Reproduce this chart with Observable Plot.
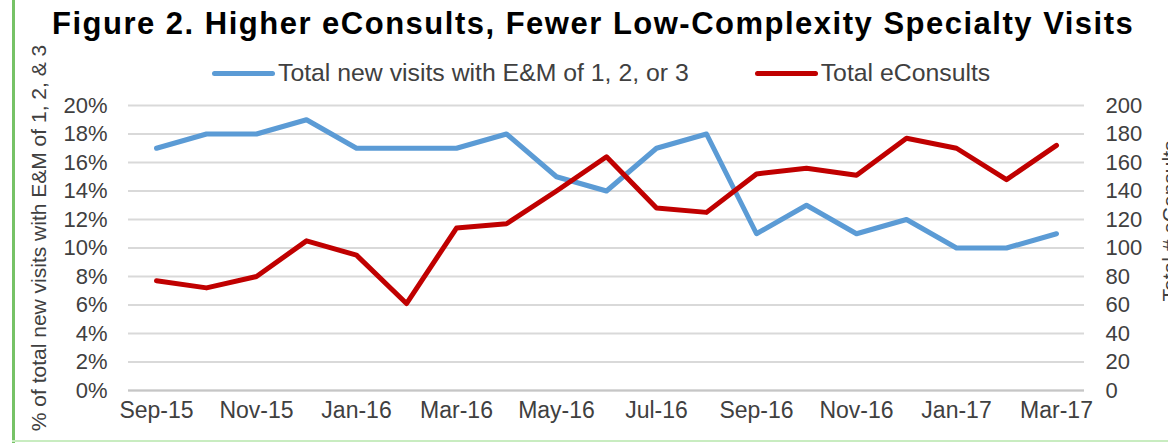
<!DOCTYPE html>
<html><head><meta charset="utf-8">
<script src="https://cdn.jsdelivr.net/npm/d3@7"></script>
<script src="https://cdn.jsdelivr.net/npm/@observablehq/plot@0.6"></script>
<style>
html,body{margin:0;padding:0;background:#fff;}
body{width:1168px;height:443px;position:relative;overflow:hidden;font-family:"Liberation Sans",Arial,sans-serif;}
#title{height:44px;line-height:48px;padding-left:52px;font-size:31px;font-weight:bold;color:#000;letter-spacing:1.5px;white-space:nowrap;}
#legend{height:44px;box-sizing:border-box;padding-top:14px;display:flex;align-items:center;padding-left:212px;font-size:24.8px;color:#404040;white-space:nowrap;}
.item{display:flex;align-items:center;}
.item + .item{margin-left:66px;}
.sw{display:inline-block;width:63px;height:5px;border-radius:2.5px;margin-right:3px;}
#chart svg{display:block;}
#leftbar{position:absolute;left:12px;top:0;width:3px;height:443px;background:#76c266;}
#bottombar{position:absolute;left:12px;right:0;top:440px;height:2px;background:#c8ecc0;}
</style></head>
<body>
<div id="leftbar"></div>
<div id="title"></div>
<div id="legend"></div>
<div id="chart"></div>
<div id="bottombar"></div>
<script>
const titleText = "Figure 2. Higher eConsults, Fewer Low-Complexity Specialty Visits";
const months = ["Sep-15","Oct-15","Nov-15","Dec-15","Jan-16","Feb-16","Mar-16","Apr-16","May-16","Jun-16","Jul-16","Aug-16","Sep-16","Oct-16","Nov-16","Dec-16","Jan-17","Feb-17","Mar-17"];
const visitsPct = [17,18,18,19,17,17,17,18,15,14,17,18,11,13,11,12,10,10,11];
const eConsults = [77,72,80,105,95,61,114,117,140,164,128,125,152,156,151,177,170,148,172];
const seriesNames = ["Total new visits with E&M of 1, 2, or 3", "Total eConsults"];
const seriesColors = ["#5B9BD5", "#C00000"];
const leftTicks = [0,2,4,6,8,10,12,14,16,18,20];
const rightTicks = [0,20,40,60,80,100,120,140,160,180,200];
const xTickLabels = ["Sep-15","Nov-15","Jan-16","Mar-16","May-16","Jul-16","Sep-16","Nov-16","Jan-17","Mar-17"];
const leftTitle = "% of total new visits with E&M of 1, 2, & 3";
const rightTitle = "Total # eConsults";

document.getElementById("title").textContent = titleText;
const legend = document.getElementById("legend");
seriesNames.forEach((name, i) => {
  const it = document.createElement("div"); it.className = "item";
  const sw = document.createElement("span"); sw.className = "sw"; sw.style.background = seriesColors[i];
  const tx = document.createElement("span"); tx.textContent = name;
  it.appendChild(sw); it.appendChild(tx); legend.appendChild(it);
});

const factor = 0.2 / 200; // right axis value -> left axis domain
const data = months.map((m, i) => ({month: m, pct: visitsPct[i] / 100, consults: eConsults[i]}));

const chart = Plot.plot({
  width: 1168, height: 355,
  marginTop: 17, marginBottom: 53, marginLeft: 128, marginRight: 84,
  style: {overflow: "visible", fontFamily: "'Liberation Sans', Arial, sans-serif", background: "transparent"},
  x: {type: "point", domain: months, padding: 0.5},
  y: {domain: [0, 0.2]},
  marks: [
    Plot.gridY(leftTicks.map(t => t / 100), {stroke: "#d9d9d9", strokeOpacity: 1, strokeWidth: 2}),
    Plot.ruleY([0], {stroke: "#c6c6c6", strokeWidth: 2}),
    Plot.axisX(xTickLabels, {tickSize: 0, tickPadding: 11, fontSize: 23, color: "#404040", label: null}),
    Plot.axisY(leftTicks.map(t => t / 100), {anchor: "left", tickSize: 0, tickPadding: 21, fontSize: 22, color: "#404040", tickFormat: d => Math.round(d * 100) + "%", label: null}),
    Plot.axisY(rightTicks.map(t => t * factor), {anchor: "right", tickSize: 0, tickPadding: 21, fontSize: 22, color: "#404040", tickFormat: d => String(Math.round(d / factor)), label: null}),
    Plot.line(data, {x: "month", y: "pct", stroke: seriesColors[0], strokeWidth: 5}),
    Plot.line(data, {x: "month", y: d => d.consults * factor, stroke: seriesColors[1], strokeWidth: 5}),
    Plot.text([leftTitle], {frameAnchor: "left", textAnchor: "middle", rotate: -90, lineAnchor: "bottom", dx: -83, dy: -10, fontSize: 21, fill: "#404040"}),
    Plot.text([rightTitle], {frameAnchor: "right", textAnchor: "middle", rotate: -90, lineAnchor: "bottom", dx: 92, dy: -27, fontSize: 21, fill: "#404040"})
  ]
});
document.getElementById("chart").appendChild(chart);
</script>
</body></html>
